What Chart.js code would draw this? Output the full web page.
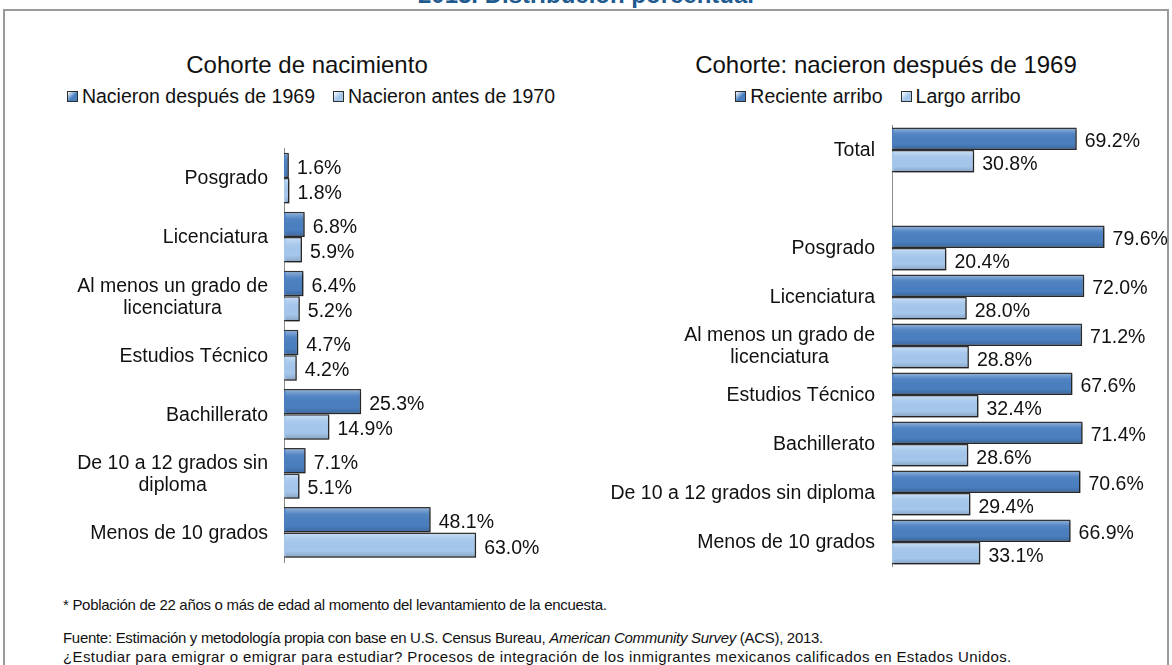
<!DOCTYPE html>
<html>
<head>
<meta charset="utf-8">
<script src="https://cdn.jsdelivr.net/npm/chart.js@4.4.0/dist/chart.umd.min.js"></script>
<style>
  body { margin: 0; background: #fff; font-family: Arial, "Liberation Sans", sans-serif; color: #111; }
  #page { position: relative; width: 1172px; height: 665px; overflow: hidden; background: #fff; }
  #frame { position: absolute; left: 3px; top: 9px; width: 1162px; height: 700px; border: 2px solid #9a9a9a; border-bottom: none; }
  #mainTitle { position: absolute; left: 0; top: -17px; width: 1172px; text-align: center; font-weight: bold; font-size: 24px; line-height: 24px; color: #215a8f; }
  .ctitle { position: absolute; top: 53px; width: 600px; text-align: center; font-size: 24px; line-height: 24px; }
  .legend { position: absolute; top: 87px; width: 600px; text-align: center; font-size: 19.5px; line-height: 19px; white-space: nowrap; }
  .legend .item { display: inline-block; margin: 0 9px; }
  .legend .box { display: inline-block; width: 9px; height: 9px; border: 1px solid #2f2f2f; margin-right: 4px; vertical-align: 1px; }
  canvas { position: absolute; }
  .note { position: absolute; left: 63px; font-size: 15px; line-height: 15px; letter-spacing: -0.3px; white-space: nowrap; }
</style>
</head>
<body>
<div id="page">
  <div id="mainTitle">2013. Distribución porcentual</div>
  <div id="frame"></div>

  <div class="ctitle" style="left:7px">Cohorte de nacimiento</div>
  <div class="legend" id="legendLeft" style="left:11px"></div>
  <div class="ctitle" style="left:586px">Cohorte: nacieron después de 1969</div>
  <div class="legend" id="legendRight" style="left:578px"></div>

  <div style="position:absolute;left:0;top:120px;width:590px;height:460px"><canvas id="leftChart"></canvas></div>
  <div style="position:absolute;left:590px;top:110px;width:582px;height:470px"><canvas id="rightChart"></canvas></div>

  <div class="note" style="top:597px">* Población de 22 años o más de edad al momento del levantamiento de la encuesta.</div>
  <div class="note" style="top:630px">Fuente: Estimación y metodología propia con base en U.S. Census Bureau, <i>American Community Survey</i> (ACS), 2013.</div>
  <div class="note" style="top:649px; letter-spacing: 0.4px">¿Estudiar para emigrar o emigrar para estudiar? Procesos de integración de los inmigrantes mexicanos calificados en Estados Unidos.</div>
</div>

<script>
// Datos
const leftCategories = ['Posgrado', 'Licenciatura', ['Al menos un grado de', 'licenciatura'], 'Estudios Técnico',
  'Bachillerato', ['De 10 a 12 grados sin', 'diploma'], 'Menos de 10 grados'];
const bornAfter1969 = [1.6, 6.8, 6.4, 4.7, 25.3, 7.1, 48.1];
const bornBefore1970 = [1.8, 5.9, 5.2, 4.2, 14.9, 5.1, 63.0];

const rightCategories = ['Total', '', 'Posgrado', 'Licenciatura', ['Al menos un grado de', 'licenciatura'],
  'Estudios Técnico', 'Bachillerato', 'De 10 a 12 grados sin diploma', 'Menos de 10 grados'];
const recentArrival = [69.2, null, 79.6, 72.0, 71.2, 67.6, 71.4, 70.6, 66.9];
const longArrival = [30.8, null, 20.4, 28.0, 28.8, 32.4, 28.6, 29.4, 33.1];

const DARK = '#4a7fc0';
const LIGHT = '#a5c7ec';
const FONT = '19.5px Arial, "Liberation Sans", sans-serif';

// sombra tipo Excel debajo de las barras
const shadowPlugin = {
  id: 'barShadow',
  beforeDatasetsDraw(chart) {
    const ctx = chart.ctx;
    ctx.save();
    ctx.shadowColor = 'rgba(0,0,0,0.35)';
    ctx.shadowOffsetX = 1.5;
    ctx.shadowOffsetY = 1.5;
    ctx.shadowBlur = 2;
  },
  afterDatasetsDraw(chart) {
    chart.ctx.restore();
  }
};

// brillo, etiquetas de categoría y de valor
const textPlugin = {
  id: 'barText',
  afterDatasetsDraw(chart, args, opts) {
    const ctx = chart.ctx;
    const yScale = chart.scales.y;
    ctx.save();

    // bisel suave sobre cada barra
    chart.data.datasets.forEach((ds, di) => {
      chart.getDatasetMeta(di).data.forEach((bar, i) => {
        if (ds.data[i] == null) return;
        const top = bar.y - bar.height / 2 + 1.5, h = bar.height - 3;
        const g = ctx.createLinearGradient(0, top, 0, top + h);
        g.addColorStop(0, 'rgba(255,255,255,0.35)');
        g.addColorStop(0.25, 'rgba(255,255,255,0.05)');
        g.addColorStop(0.75, 'rgba(0,0,0,0)');
        g.addColorStop(1, 'rgba(0,0,0,0.15)');
        ctx.fillStyle = g;
        ctx.fillRect(bar.base + 1.5, top, bar.x - bar.base - 3, h);
      });
    });

    ctx.font = FONT;
    ctx.fillStyle = '#111';
    ctx.textBaseline = 'middle';

    // categorías: bloque alineado a la derecha, líneas centradas
    chart.data.labels.forEach((lab, i) => {
      const lines = Array.isArray(lab) ? lab : [lab];
      const maxW = Math.max(...lines.map(l => ctx.measureText(l).width));
      const right = chart.chartArea.left - opts.tickGap;
      const y0 = yScale.getPixelForValue(i) - (lines.length - 1) * opts.lineHeight / 2;
      ctx.textAlign = 'center';
      lines.forEach((l, k) => ctx.fillText(l, right - maxW / 2, y0 + k * opts.lineHeight + 1));
    });

    // valores al final de cada barra
    ctx.textAlign = 'left';
    chart.data.datasets.forEach((ds, di) => {
      chart.getDatasetMeta(di).data.forEach((bar, i) => {
        const v = ds.data[i];
        if (v == null) return;
        ctx.fillText(v.toFixed(1) + '%', bar.x + opts.gap, bar.y + 3);
      });
    });
    ctx.restore();
  }
};

function makeChart(id, labels, series, names, opts) {
  return new Chart(document.getElementById(id), {
    type: 'bar',
    data: {
      labels: labels,
      datasets: series.map((d, i) => ({
        label: names[i],
        data: d,
        backgroundColor: i === 0 ? DARK : LIGHT,
        borderColor: '#333',
        borderWidth: 1.5,
        barPercentage: 1,
        categoryPercentage: opts.catPct
      }))
    },
    options: {
      indexAxis: 'y',
      responsive: true,
      maintainAspectRatio: false,
      animation: false,
      layout: { padding: opts.padding },
      plugins: {
        legend: { display: false },
        tooltip: { enabled: false },
        barText: { tickGap: opts.tickGap, lineHeight: 22, gap: 8 }
      },
      scales: {
        x: { display: false, min: 0, max: opts.max },
        y: {
          afterFit(s) { s.width = opts.axisWidth; },
          ticks: { display: false },
          grid: { display: false },
          border: { display: true, color: '#8c8c8c', width: 1 }
        }
      }
    },
    plugins: [shadowPlugin, textPlugin]
  });
}

function buildLegend(el, chart) {
  chart.data.datasets.forEach(ds => {
    const item = document.createElement('span');
    item.className = 'item';
    const box = document.createElement('span');
    box.className = 'box';
    box.style.background = 'linear-gradient(135deg, #fff 0%, ' + ds.backgroundColor + ' 55%, ' + ds.backgroundColor + ' 100%)';
    item.appendChild(box);
    item.appendChild(document.createTextNode(ds.label));
    el.appendChild(item);
  });
}

const leftChart = makeChart('leftChart', leftCategories, [bornAfter1969, bornBefore1970],
  ['Nacieron después de 1969', 'Nacieron antes de 1970'],
  { catPct: 0.86, max: 70, axisWidth: 284, tickGap: 16,
    padding: { top: 28.5, bottom: 18, left: 0, right: 92.5 } });

const rightChart = makeChart('rightChart', rightCategories, [recentArrival, longArrival],
  ['Reciente arribo', 'Largo arribo'],
  { catPct: 0.92, max: 90, axisWidth: 302, tickGap: 17,
    padding: { top: 15.5, bottom: 13.5, left: 0, right: 39.7 } });

buildLegend(document.getElementById('legendLeft'), leftChart);
buildLegend(document.getElementById('legendRight'), rightChart);
</script>
</body>
</html>
